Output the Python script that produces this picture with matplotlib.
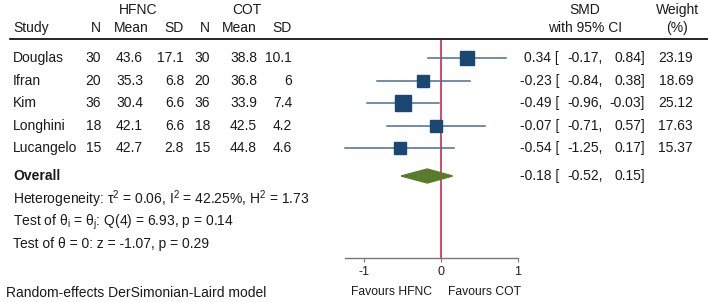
import numpy as np
import matplotlib
matplotlib.use("Agg")
import matplotlib.pyplot as plt
from matplotlib.transforms import blended_transform_factory

plt.rcParams['font.family'] = ['Liberation Sans', 'DejaVu Sans']
plt.rcParams['mathtext.fontset'] = 'custom'
plt.rcParams['mathtext.rm'] = 'Liberation Sans'
plt.rcParams['mathtext.it'] = 'Liberation Sans:italic'

# study data
studies = ["Douglas", "Ifran", "Kim", "Longhini", "Lucangelo"]
n_hfnc = [30, 20, 36, 18, 15]
mean_hfnc = ["43.6", "35.3", "30.4", "42.1", "42.7"]
sd_hfnc = ["17.1", "6.8", "6.6", "6.6", "2.8"]
n_cot = [30, 20, 36, 18, 15]
mean_cot = ["38.8", "36.8", "33.9", "42.5", "44.8"]
sd_cot = ["10.1", "6", "7.4", "4.2", "4.6"]
smd = [0.34, -0.23, -0.49, -0.07, -0.54]
lo = [-0.17, -0.84, -0.96, -0.71, -1.25]
hi = [0.84, 0.38, -0.03, 0.57, 0.17]
weight = [23.19, 18.69, 25.12, 17.63, 15.37]

overall = -0.18
overall_lo = -0.52
overall_hi = 0.15

W, H = 708, 302
fig = plt.figure(figsize=(W / 100, H / 100), dpi=100)

# forest axes: x from -1.25 to 1, pixels 345..518 ; y pixels 40..257
ax = fig.add_axes([345 / W, (H - 257.5) / H, (518 - 345) / W, (257.5 - 40) / H])
row_px = 22.6
def r(py):
    return (py - 58) / row_px
ax.set_xlim(-1.25, 1)
ax.set_ylim(r(257.5), r(40))
for s in ["left", "right", "top"]:
    ax.spines[s].set_visible(False)
ax.spines["bottom"].set_color("#777777")
ax.spines["bottom"].set_linewidth(1.0)
ax.set_yticks([])
ax.set_xticks([-1, 0, 1])
ax.set_xticklabels(["-1", "0", "1"])
ax.tick_params(axis="x", colors="#777777", labelcolor="#222222", length=3,
               labelsize=9, pad=3)
ax.patch.set_alpha(0)

rows = np.arange(len(studies))
ov_row = r(176)

ax.axvline(0, color="#d0294a", lw=1.2, zorder=1)
for i in rows:
    ax.plot([lo[i], hi[i]], [i, i], color="#4a6e96", lw=1.1, zorder=2,
            clip_on=False)
    ax.plot(smd[i], i, marker="s", ms=2.16 * np.sqrt(weight[i]),
            color="#1b4872", mec="#1b4872", zorder=3, clip_on=False)

dh = 0.31
ax.fill([overall_lo, overall, overall_hi, overall],
        [ov_row, ov_row - dh, ov_row, ov_row + dh],
        color="#5b7b2c", zorder=3)

tr = blended_transform_factory(fig.transFigure, ax.transData)
def fx(px):
    return px / W

fs = 10
col = "#1a1a1a"
# header
fig.text(fx(138), 1 - 10 / H, "HFNC", ha="center", va="center", fontsize=fs, color=col)
fig.text(fx(247), 1 - 10 / H, "COT", ha="center", va="center", fontsize=fs, color=col)
fig.text(fx(585), 1 - 10 / H, "SMD", ha="center", va="center", fontsize=fs, color=col)
fig.text(fx(677), 1 - 10 / H, "Weight", ha="center", va="center", fontsize=fs, color=col)
hy = 1 - 28 / H
fig.text(fx(13), hy, "Study", ha="left", va="center", fontsize=fs, color=col)
for x, t in [(101, "N"), (149, "Mean"), (184, "SD"), (210, "N"), (257, "Mean"), (292, "SD")]:
    fig.text(fx(x), hy, t, ha="right", va="center", fontsize=fs, color=col)
fig.text(fx(585), hy, "with 95% CI", ha="center", va="center", fontsize=fs, color=col)
fig.text(fx(677), hy, "(%)", ha="center", va="center", fontsize=fs, color=col)
fig.add_artist(plt.Line2D([10 / W, 1], [1 - 39 / H, 1 - 39 / H], color="black", lw=1.2))

for i in rows:
    fig.text(fx(13), i, studies[i], transform=tr, ha="left", va="center", fontsize=fs, color=col)
    fig.text(fx(101), i, str(n_hfnc[i]), transform=tr, ha="right", va="center", fontsize=fs, color=col)
    fig.text(fx(143), i, mean_hfnc[i], transform=tr, ha="right", va="center", fontsize=fs, color=col)
    fig.text(fx(184), i, sd_hfnc[i], transform=tr, ha="right", va="center", fontsize=fs, color=col)
    fig.text(fx(210), i, str(n_cot[i]), transform=tr, ha="right", va="center", fontsize=fs, color=col)
    fig.text(fx(257), i, mean_cot[i], transform=tr, ha="right", va="center", fontsize=fs, color=col)
    fig.text(fx(292), i, sd_cot[i], transform=tr, ha="right", va="center", fontsize=fs, color=col)
    fig.text(fx(559), i, "%.2f [" % smd[i], transform=tr, ha="right", va="center", fontsize=fs, color=col)
    fig.text(fx(603), i, "%.2f," % lo[i], transform=tr, ha="right", va="center", fontsize=fs, color=col)
    fig.text(fx(645), i, "%.2f]" % hi[i], transform=tr, ha="right", va="center", fontsize=fs, color=col)
    fig.text(fx(693), i, "%.2f" % weight[i], transform=tr, ha="right", va="center", fontsize=fs, color=col)

fig.text(fx(559), ov_row, "%.2f [" % overall, transform=tr, ha="right", va="center", fontsize=fs, color=col)
fig.text(fx(603), ov_row, "%.2f," % overall_lo, transform=tr, ha="right", va="center", fontsize=fs, color=col)
fig.text(fx(645), ov_row, "%.2f]" % overall_hi, transform=tr, ha="right", va="center", fontsize=fs, color=col)

fig.text(fx(13), ov_row, "Overall", transform=tr, ha="left", va="center", fontsize=fs,
         color=col, fontweight="bold")
fig.text(fx(13), r(199), r"Heterogeneity: τ$^\mathregular{2}$ = 0.06, I$^\mathregular{2}$ = 42.25%, H$^\mathregular{2}$ = 1.73",
         transform=tr, ha="left", va="center", fontsize=fs, color=col)
fig.text(fx(13), r(222), r"Test of θ$_\mathregular{i}$ = θ$_\mathregular{j}$: Q(4) = 6.93, p = 0.14",
         transform=tr, ha="left", va="center", fontsize=fs, color=col)
fig.text(fx(13), r(244), "Test of θ = 0: z = -1.07, p = 0.29",
         transform=tr, ha="left", va="center", fontsize=fs, color=col)
fig.text(fx(6), 1 - 293 / H, "Random-effects DerSimonian-Laird model", ha="left", va="center",
         fontsize=fs, color=col)

ax.text(-0.64, r(292), "Favours HFNC", ha="center", va="center", fontsize=8.7, color=col)
ax.text(0.56, r(292), "Favours COT", ha="center", va="center", fontsize=8.7, color=col)

fig.savefig("out.png", dpi=100)
